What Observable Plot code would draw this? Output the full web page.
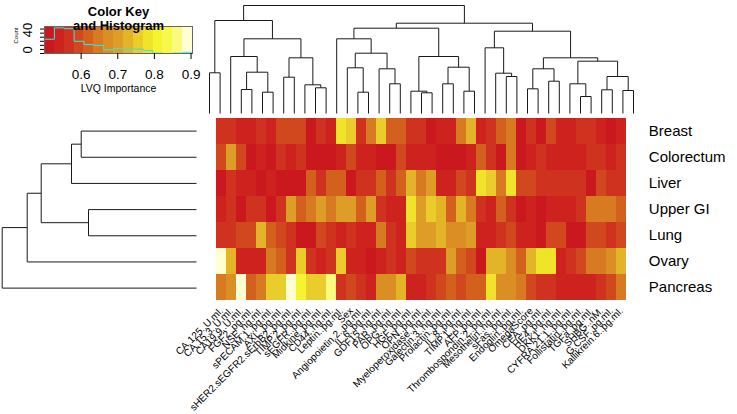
<!DOCTYPE html>
<html><head><meta charset="utf-8">
<script src="https://cdn.jsdelivr.net/npm/d3@7"></script>
<script src="https://cdn.jsdelivr.net/npm/@observablehq/plot@0.6"></script>
<style>
body{margin:0;background:#fff;}
#chart{position:relative;width:737px;height:414px;overflow:hidden;}
</style></head><body><div id="chart"></div>
<script>
// ---- data ----
const rowLabels = ["Breast","Colorectum","Liver","Upper GI","Lung","Ovary","Pancreas"];
const colLabels = ["CA.125..U.ml.","CA.15.3..U.ml.","CA19.9..U.ml.","FGF2..pg.ml.","NSE..ng.ml.","sPECAM.1..pg.ml.","AXL..pg.ml.","sHER2.sEGFR2.sErbB2..pg.ml.","TIMP.2..pg.ml.","sEGFR..pg.ml.","Midkine..pg.ml.","CD44..ng.ml.","Leptin..pg.ml.","Sex","Angiopoietin.2..pg.ml.","IL.6..pg.ml.","GDF15..ng.ml.","PAR..pg.ml.","OPG..ng.ml.","HGF..pg.ml.","OPN..pg.ml.","Myeloperoxidase..ng.ml.","Galectin.3..ng.ml.","Prolactin..pg.ml.","IL.8..pg.ml.","TIMP.1..ng.ml.","AFP..pg.ml.","Thrombospondin.2..pg.ml.","Mesothelin..ng.ml.","sFas..pg.ml.","Endoglin..pg.ml.","OmegaScore","CEA..pg.ml.","HE4..pg.ml.","DKK1..ng.ml.","CYFRA.21.1..pg.ml.","Follistatin..pg.ml.","TGFa..pg.ml.","SHBG..nM.","G.CSF..pg.ml.","Kallikrein.6..pg.ml."];

const breast     = [0.56,0.56,0.535,0.535,0.56,0.535,0.585,0.585,0.605,0.51,0.56,0.535,0.785,0.755, 0.57,0.655,0.755,0.625,0.625,0.56,0.56,0.51,0.535,0.535,0.655,0.73,0.535, 0.57,0.625,0.65,0.51,0.57,0.51,0.605,0.535,0.535,0.57,0.56,0.535,0.51,0.535];
const colorectum = [0.605,0.70,0.585,0.51,0.535,0.51,0.56,0.535,0.57,0.51,0.51,0.51,0.535,0.59, 0.535,0.535,0.51,0.51,0.585,0.535,0.535,0.535,0.51,0.51,0.51,0.535,0.625, 0.56,0.51,0.65,0.51,0.535,0.565,0.535,0.535,0.535,0.535,0.565,0.56,0.535,0.56];
const liver      = [0.51,0.56,0.535,0.535,0.51,0.535,0.51,0.51,0.51,0.625,0.57,0.625,0.625,0.51, 0.57,0.56,0.625,0.57,0.625,0.725,0.65,0.70,0.535,0.535,0.585,0.565,0.785, 0.755,0.655,0.785,0.59,0.59,0.56,0.56,0.56,0.56,0.57,0.51,0.585,0.56,0.57];
const upperGI    = [0.535,0.56,0.51,0.56,0.56,0.51,0.57,0.70,0.625,0.655,0.71,0.655,0.70,0.70, 0.625,0.71,0.56,0.535,0.535,0.785,0.70,0.755,0.735,0.625,0.73,0.65,0.56, 0.535,0.625,0.565,0.51,0.535,0.51,0.535,0.535,0.535,0.56,0.65,0.65,0.65,0.62];
const lung       = [0.56,0.56,0.60,0.60,0.735,0.62,0.585,0.56,0.51,0.51,0.59,0.56,0.535,0.56, 0.535,0.535,0.655,0.57,0.535,0.755,0.70,0.70,0.73,0.68,0.67,0.70,0.535, 0.535,0.56,0.585,0.535,0.535,0.51,0.585,0.605,0.51,0.51,0.60,0.60,0.56,0.60];
const ovary      = [0.89,0.73,0.535,0.535,0.535,0.65,0.625,0.57,0.755,0.56,0.535,0.57,0.755,0.535, 0.535,0.51,0.535,0.56,0.535,0.605,0.57,0.56,0.56,0.70,0.625,0.59,0.51, 0.725,0.725,0.675,0.625,0.73,0.785,0.785,0.535,0.57,0.605,0.655,0.655,0.68,0.725];
const pancreas   = [0.65,0.68,0.89,0.625,0.655,0.755,0.755,0.89,0.815,0.755,0.755,0.86,0.56,0.605, 0.57,0.535,0.68,0.68,0.725,0.535,0.535,0.56,0.60,0.625,0.60,0.62,0.62, 0.785,0.68,0.68,0.655,0.59,0.56,0.56,0.535,0.535,0.535,0.535,0.56,0.605,0.65];
const rowValues = [breast, colorectum, liver, upperGI, lung, ovary, pancreas];

// dendrograms: [mergeHeight, left, right]; numbers are leaf indices
const colTree = [108,
  [93, [40.7, 0, 1],
       [74.7, [57, 2, [41.3, [24, 3, 4], [21.3, 5, 6]]],
              [55.7, [36.3, 7, 8], [28.7, 9, [25.7, 10, 11]]]]],
  [90.3,
    [85.3, [74.7, 12, [60.3, [45.7, 13, [21.3, 14, 15]], [44.7, 16, [29.7, 17, 18]]]],
           [57, [22.3, 19, [20.7, 20, 21]], [46.3, [29.7, 22, 23], [22.3, 24, 25]]]],
    [82.3, [65.7, 26, [40.3, 27, [37, 28, 29]]],
           [55.7, [44.7, [24.7, 30, 31], [32.3, 32, 33]],
                  [52.3, [29.7, 34, [17, 35, 36]], [37, [23.7, 37, 38], [23, 39, 40]]]]]]];
const rowTree = [194.3, [169.3, [155.3, [125, [115.3, 0, 1], 2], [108, 3, 4]], 5], 6];

// color key
const keyColors = ["#cb181e","#cd221e","#cf321e","#d1481e","#d4601e","#d87a21","#db8e24","#de9d26","#e3b428","#eacc2a","#f0e42a","#f6f430","#f8f84b","#fafa7d","#ffffd2"];
const keyMin = 0.5, keyMax = 0.904;
const keyTicks = [0.6, 0.7, 0.8, 0.9];
const countLabels = [0, 40];

// ---- derived ----
const nBins = keyColors.length;
const breaks = d3.range(nBins + 1).map(i => keyMin + (keyMax - keyMin) * i / nBins);
const colorScale = {type: "threshold", domain: breaks.slice(1, -1), range: keyColors};
const cells = rowLabels.flatMap((r, i) => colLabels.map((c, j) => ({row: r, col: c, value: rowValues[i][j]})));
const allValues = rowValues.flat();
const counts = d3.range(nBins).map(i => allValues.filter(v => v >= breaks[i] && (i === nBins - 1 ? v <= breaks[i + 1] : v < breaks[i + 1])).length);
const maxCount = d3.max(counts);
const countMax = maxCount / 0.95;
const countTicks = d3.range(0, countMax, 10);
const step = breaks.map((b, i) => ({x: b, y: counts[Math.min(i, nBins - 1)]}));
const bands = d3.range(nBins).map(i => ({x1: breaks[i], x2: breaks[i + 1], mid: (breaks[i] + breaks[i + 1]) / 2}));

function layoutTree(node, segs) {
  if (typeof node === "number") return {p: node, h: 0};
  const [h, a, b] = node;
  const A = layoutTree(a, segs), B = layoutTree(b, segs);
  segs.push({p1: A.p, h1: A.h, p2: A.p, h2: h});
  segs.push({p1: B.p, h1: B.h, p2: B.p, h2: h});
  segs.push({p1: A.p, h1: h, p2: B.p, h2: h});
  return {p: (A.p + B.p) / 2, h};
}
const colSegs = []; layoutTree(colTree, colSegs);
const rowSegs = []; layoutTree(rowTree, rowSegs);

const font = '"Liberation Sans", Arial, Helvetica, sans-serif';
const baseStyle = {fontFamily: font, background: "transparent", color: "#000", overflow: "visible"};
const chart = document.getElementById("chart");
function place(svg) {
  svg.style.position = "absolute"; svg.style.left = "0px"; svg.style.top = "0px";
  svg.style.maxWidth = "none";
  chart.appendChild(svg);
}

// heatmap with labels
place(Plot.plot({
  width: 737, height: 414,
  marginLeft: 203.7, marginRight: 98.7, marginTop: 117.5, marginBottom: 113.3,
  style: baseStyle,
  x: {type: "band", domain: colLabels, padding: 0},
  y: {type: "band", domain: rowLabels, padding: 0},
  color: colorScale,
  marks: [
    Plot.cell(cells, {x: "col", y: "row", fill: "value", inset: 0, shapeRendering: "crispEdges"}),
    Plot.axisX({anchor: "bottom", tickSize: 0, tickPadding: 8, tickRotate: -45, fontSize: 10, label: null}),
    Plot.axisY({anchor: "right", tickSize: 0, tickPadding: 10, fontSize: 15, label: null})
  ]
}));

// column dendrogram
place(Plot.plot({
  width: 737, height: 117,
  marginLeft: 203.7, marginRight: 98.7, marginTop: 5, marginBottom: 4,
  style: baseStyle,
  x: {domain: [-0.5, colLabels.length - 0.5], axis: null},
  y: {domain: [0, 108], axis: null},
  marks: [
    Plot.link(colSegs, {x1: "p1", y1: "h1", x2: "p2", y2: "h2", stroke: "#1a1a1a", strokeWidth: 1})
  ]
}));

// row dendrogram
place(Plot.plot({
  width: 205, height: 414,
  marginLeft: 1.7, marginRight: 9, marginTop: 117.5, marginBottom: 113.3,
  style: baseStyle,
  x: {domain: [194.3, 0], axis: null},
  y: {domain: [rowLabels.length - 0.5, -0.5], axis: null},
  marks: [
    Plot.link(rowSegs, {x1: "h1", y1: "p1", x2: "h2", y2: "p2", stroke: "#1a1a1a", strokeWidth: 1})
  ]
}));

// color key and histogram
place(Plot.plot({
  width: 205, height: 100,
  marginLeft: 44, marginRight: 13, marginTop: 26, marginBottom: 47,
  style: baseStyle,
  x: {domain: [keyMin, keyMax]},
  y: {domain: [0, countMax]},
  color: colorScale,
  marks: [
    Plot.rect(bands, {x1: "x1", x2: "x2", y1: () => 0, y2: () => countMax, fill: "mid", shapeRendering: "crispEdges"}),
    Plot.line(step, {x: "x", y: "y", curve: "step-after", stroke: "#3fe3e3", strokeWidth: 1}),
    Plot.frame({stroke: "#666"}),
    Plot.axisX({ticks: keyTicks, tickSize: 6, tickPadding: 10, fontSize: 13.5, tickFormat: d3.format(".1f"), label: null}),
    Plot.axisY({ticks: countTicks, tickSize: 4, tickFormat: () => "", label: null}),
    Plot.text(countLabels, {y: d => d, text: d => String(d), frameAnchor: "left", dx: -16.3, rotate: -90, fontSize: 13}),
    Plot.text(["Count"], {y: () => countMax * 0.37, text: d => d, frameAnchor: "left", dx: -28, rotate: -90, fontSize: 6}),
    Plot.text(["LVQ Importance"], {text: d => d, frameAnchor: "bottom", dy: 38, fontSize: 10.5}),
    Plot.text(["Color Key"], {text: d => d, frameAnchor: "top", dy: -19.5, fontSize: 13, fontWeight: "bold"}),
    Plot.text(["and Histogram"], {text: d => d, frameAnchor: "top", dy: -5.5, fontSize: 13, fontWeight: "bold"})
  ]
}));
</script></body></html>
